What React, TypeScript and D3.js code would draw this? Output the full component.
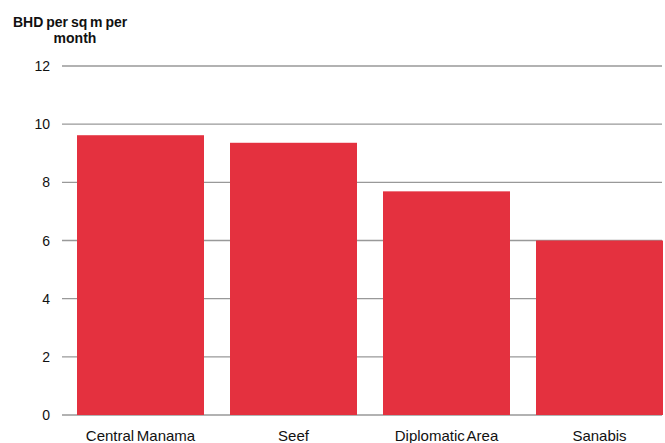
import React from "react";
import * as d3 from "d3";

const categories = ["Central Manama", "Seef", "Diplomatic Area", "Sanabis"];
const values = [9.62, 9.36, 7.69, 6.0];
const yTicks = [0, 2, 4, 6, 8, 10, 12];

const W = 665;
const H = 443;
const FONT = "'Liberation Sans', Arial, sans-serif";

export default function App() {
  const x = d3
    .scaleBand<string>()
    .domain(categories)
    .range([64, 676])
    .paddingInner(0.17)
    .paddingOuter(0.085)
    .align(0.5);
  const y = d3.scaleLinear().domain([0, 12]).range([415, 66]);

  return (
    <svg
      width={W}
      height={H}
      style={{ position: "absolute", left: 0, top: 0, background: "#fff" }}
      fontFamily={FONT}
    >
      <text x={13} y={27} fontSize={14} fontWeight="bold" fill="#111" wordSpacing={-1}>
        BHD per sq m per
      </text>
      <text x={75} y={43} fontSize={14} fontWeight="bold" fill="#111" textAnchor="middle">
        month
      </text>
      {yTicks.map((t) => (
        <g key={t}>
          <line x1={62} x2={662} y1={y(t)} y2={y(t)} stroke="#999" strokeWidth={1.3} />
          <text x={50} y={y(t) + 5} fontSize={14} textAnchor="end" fill="#111">
            {t}
          </text>
        </g>
      ))}
      {categories.map((c, i) => (
        <rect
          key={c}
          x={x(c)}
          y={y(values[i])}
          width={x.bandwidth()}
          height={y(0) - y(values[i])}
          fill="#E4313F"
        />
      ))}
      {categories.map((c) => (
        <text
          key={c}
          x={(x(c) as number) + x.bandwidth() / 2}
          y={441}
          fontSize={15}
          textAnchor="middle"
          fill="#111"
          wordSpacing={-1.5}
        >
          {c}
        </text>
      ))}
    </svg>
  );
}
